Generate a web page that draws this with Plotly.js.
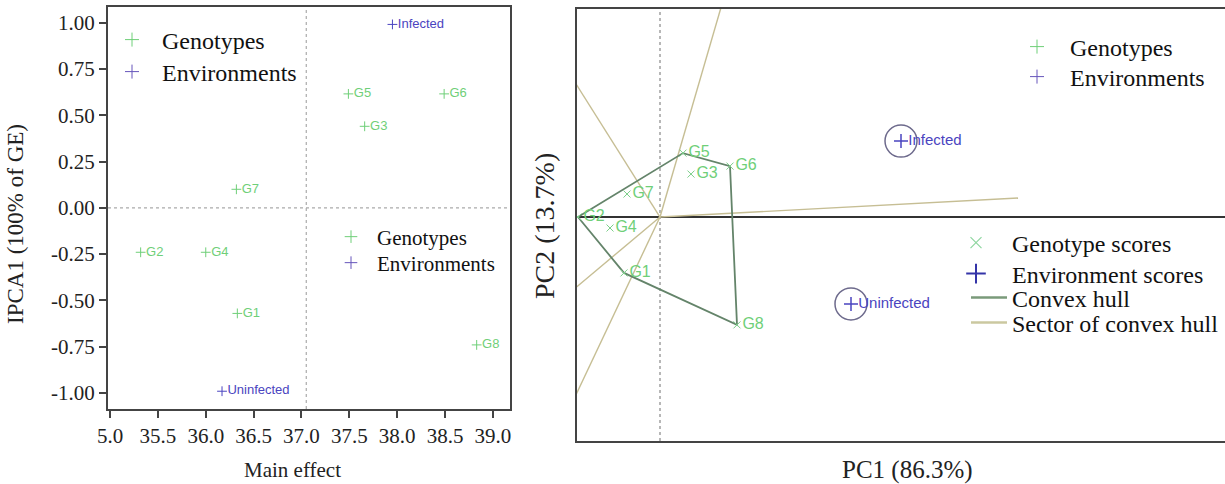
<!DOCTYPE html>
<html><head><meta charset="utf-8">
<script src="https://cdn.plot.ly/plotly-3.0.1.min.js"></script>
<style>html,body{margin:0;padding:0;background:#fff}</style>
</head><body><div id="chart" style="width:1225px;height:484px"></div>
<script>
// ---------- Left panel: AMMI biplot ----------
const genotypes = ["G1","G2","G3","G4","G5","G6","G7","G8"];
const mainEffectG = [36.33, 35.32, 37.66, 36.00, 37.49, 38.49, 36.32, 38.83];
const ipca1G = [-0.57, -0.24, 0.44, -0.24, 0.615, 0.615, 0.10, -0.74];
const environments = ["Infected","Uninfected"];
const mainEffectE = [37.95, 36.17];
const ipca1E = [0.99, -0.99];
const grandMean = 37.05;
const xTickVals = [35.0, 35.5, 36.0, 36.5, 37.0, 37.5, 38.0, 38.5, 39.0];
const xTickText = ["5.0", "35.5", "36.0", "36.5", "37.0", "37.5", "38.0", "38.5", "39.0"];
const yTickVals = [1.0, 0.75, 0.5, 0.25, 0.0, -0.25, -0.5, -0.75, -1.0];
const yTickText = ["1.00", "0.75", "0.50", "0.25", "0.00", "-0.25", "-0.50", "-0.75", "-1.00"];

// ---------- Right panel: GGE which-won-where ----------
const pc1G = [-0.36, -0.82, 0.31, -0.50, 0.23, 0.70, -0.33, 0.77];
const pc2G = [-0.56, 0.00, 0.43, -0.11, 0.64, 0.51, 0.23, -1.08];
const pc1E = [2.41, 1.91];
const pc2E = [0.76, -0.87];
const hullOrder = ["G2", "G5", "G6", "G8", "G1", "G2"];
const sectorEndX = [1.00, 3.58, -1.91, -2.74, -1.53];
const sectorEndY = [3.44, 0.19, 3.03, -2.30, -3.24];

const SERIF = "Liberation Serif, Times New Roman, serif";
const SANS = "Liberation Sans, Arial, sans-serif";
const GREEN = "#6fcf78";
const BLUE = "#4a44c0";
const PURPLE = "#6655bb";
const FRAME = "#444";

const hullX = hullOrder.map(g => pc1G[genotypes.indexOf(g)]);
const hullY = hullOrder.map(g => pc2G[genotypes.indexOf(g)]);
const rayX = [], rayY = [];
sectorEndX.forEach((ex, i) => { rayX.push(0, ex, null); rayY.push(0, sectorEndY[i], null); });

function legMarker(name, legend, symbol, size, color, width, ax) {
  return {x: [null], y: [null], name: name, mode: "markers", legend: legend,
    marker: {symbol: symbol, size: size, color: color, line: {color: color, width: width}},
    xaxis: ax[0], yaxis: ax[1]};
}
function legLine(name, legend, color, ax) {
  return {x: [null], y: [null], name: name, mode: "lines", legend: legend,
    line: {color: color, width: 2.5}, xaxis: ax[0], yaxis: ax[1]};
}
const L = ["x", "y"], R = ["x2", "y2"];

const traces = [
  // left panel points
  {x: mainEffectG, y: ipca1G, text: genotypes, mode: "markers+text", textposition: "middle right",
   marker: {symbol: "cross-thin", size: 7, color: GREEN, line: {color: GREEN, width: 1}},
   textfont: {family: SANS, size: 13, color: GREEN}, showlegend: false, cliponaxis: false, xaxis: "x", yaxis: "y", hoverinfo: "skip"},
  {x: mainEffectE, y: ipca1E, text: environments, mode: "markers+text", textposition: "middle right",
   marker: {symbol: "cross-thin", size: 7, color: BLUE, line: {color: BLUE, width: 1}},
   textfont: {family: SANS, size: 13, color: BLUE}, showlegend: false, cliponaxis: false, xaxis: "x", yaxis: "y", hoverinfo: "skip"},
  // left legends (one row each)
  legMarker("Genotypes", "legend", "cross-thin", 10, GREEN, 1, L),
  legMarker("Environments", "legend2", "cross-thin", 10, PURPLE, 1, L),
  legMarker("Genotypes", "legend3", "cross-thin", 9, GREEN, 1, L),
  legMarker("Environments", "legend4", "cross-thin", 9, PURPLE, 1, L),

  // right panel
  {x: rayX, y: rayY, mode: "lines", line: {color: "#c6be94", width: 1.4}, showlegend: false, xaxis: "x2", yaxis: "y2", hoverinfo: "skip"},
  {x: hullX, y: hullY, mode: "lines", line: {color: "#64846a", width: 1.8}, showlegend: false, xaxis: "x2", yaxis: "y2", hoverinfo: "skip"},
  {x: pc1G, y: pc2G, text: genotypes, mode: "markers+text", textposition: "middle right",
   marker: {symbol: "x-thin", size: 7, color: "#7ccf8a", line: {color: "#7ccf8a", width: 1}},
   textfont: {family: SANS, size: 16, color: GREEN}, showlegend: false, xaxis: "x2", yaxis: "y2", hoverinfo: "skip"},
  {x: pc1E, y: pc2E, mode: "markers", marker: {symbol: "circle-open", size: 32, color: "#6d6a8c", line: {color: "#6d6a8c", width: 1.5}},
   showlegend: false, xaxis: "x2", yaxis: "y2", hoverinfo: "skip"},
  {x: pc1E, y: pc2E, text: environments, mode: "markers+text", textposition: "middle right",
   marker: {symbol: "cross-thin", size: 10, color: BLUE, line: {color: BLUE, width: 1.5}},
   textfont: {family: SANS, size: 15, color: BLUE}, showlegend: false, xaxis: "x2", yaxis: "y2", hoverinfo: "skip"},
  // right legends
  legMarker("Genotypes", "legend5", "cross-thin", 10, GREEN, 1, R),
  legMarker("Environments", "legend6", "cross-thin", 10, PURPLE, 1, R),
  legMarker("Genotype scores", "legend7", "x-thin", 11, "#8fd6a0", 1.2, R),
  legMarker("Environment scores", "legend8", "cross-thin", 14, "#3434a8", 2, R),
  legLine("Convex hull", "legend9", "#7a9a7a", R),
  legLine("Sector of convex hull", "legend10", "#cbc8a0", R)
];

function leg(x, y, size, iw) {
  return {bgcolor: "rgba(0,0,0,0)", borderwidth: 0, font: {family: SERIF, size: size, color: "#111"},
    xanchor: "left", yanchor: "middle", x: x/1225, y: 1 - y/484, itemwidth: iw || 30,
    itemclick: false, itemdoubleclick: false};
}

const layout = {
  width: 1225, height: 484,
  margin: {l: 0, r: 0, t: 0, b: 0},
  paper_bgcolor: "#fff", plot_bgcolor: "#fff",
  showlegend: true,
  xaxis: {domain: [108/1225, 510/1225], range: [34.979, 39.178], tickvals: xTickVals, ticktext: xTickText,
    ticks: "outside", ticklen: 7, tickwidth: 2, tickcolor: FRAME, showline: true, mirror: true, linecolor: FRAME, linewidth: 2,
    showgrid: false, zeroline: false, tickfont: {family: SERIF, size: 21, color: "#222"}, anchor: "y", fixedrange: true},
  yaxis: {domain: [75/484, 477/484], range: [-1.086, 1.084], tickvals: yTickVals, ticktext: yTickText,
    ticks: "outside", ticklen: 7, tickwidth: 2, tickcolor: FRAME, showline: true, mirror: true, linecolor: FRAME, linewidth: 2,
    showgrid: false, zeroline: false, tickfont: {family: SERIF, size: 21, color: "#222"}, anchor: "x", fixedrange: true},
  xaxis2: {domain: [577/1225, 1], range: [-0.83, 5.65], showticklabels: false, ticks: "", showline: true, mirror: true,
    linecolor: FRAME, linewidth: 2, showgrid: false, zeroline: false, anchor: "y2", fixedrange: true},
  yaxis2: {domain: [43/484, 475/484], range: [-2.243, 2.083], showticklabels: false, ticks: "", showline: true, mirror: false,
    linecolor: FRAME, linewidth: 2, showgrid: false, zeroline: true, zerolinecolor: "#333", zerolinewidth: 2.4, anchor: "x2", fixedrange: true},
  legend: leg(102, 40, 24, 50),
  legend2: leg(102, 72, 24, 50),
  legend3: leg(325, 237, 21, 42),
  legend4: leg(325, 263, 21, 42),
  legend5: leg(1004, 47, 24, 56),
  legend6: leg(1004, 77, 24, 56),
  legend7: leg(940, 243, 24, 62),
  legend8: leg(940, 274, 24, 62),
  legend9: leg(966, 298, 24, 36),
  legend10: leg(966, 323, 24, 36),
  shapes: [
    {type: "line", xref: "x domain", x0: 0, x1: 1, yref: "y", y0: 0, y1: 0, layer: "below", line: {color: "#aaa", width: 1.2, dash: "dot"}},
    {type: "line", xref: "x", x0: grandMean, x1: grandMean, yref: "y domain", y0: 0, y1: 1, layer: "below", line: {color: "#aaa", width: 1.2, dash: "dot"}},
    {type: "line", xref: "x2", x0: 0, x1: 0, yref: "y2 domain", y0: 0, y1: 1, layer: "below", line: {color: "#888", width: 1.2, dash: "dot"}}
  ],
  annotations: [
    {text: "IPCA1 (100% of GE)", xref: "paper", yref: "paper", x: 15/1225, y: 1 - 224/484, textangle: -90, showarrow: false,
     xanchor: "center", yanchor: "middle", font: {family: SERIF, size: 23, color: "#222"}},
    {text: "Main effect", xref: "paper", yref: "paper", x: 292/1225, y: 1 - 470/484, showarrow: false,
     xanchor: "center", yanchor: "middle", font: {family: SERIF, size: 21, color: "#222"}},
    {text: "PC1 (86.3%)", xref: "paper", yref: "paper", x: 907/1225, y: 1 - 470/484, showarrow: false,
     xanchor: "center", yanchor: "middle", font: {family: SERIF, size: 25, color: "#222"}},
    {text: "PC2 (13.7%)", xref: "paper", yref: "paper", x: 544/1225, y: 1 - 226/484, textangle: -90, showarrow: false,
     xanchor: "center", yanchor: "middle", font: {family: SERIF, size: 28, color: "#222"}}
  ]
};

Plotly.newPlot("chart", traces, layout, {displayModeBar: false, staticPlot: true});
</script>
</body></html>
